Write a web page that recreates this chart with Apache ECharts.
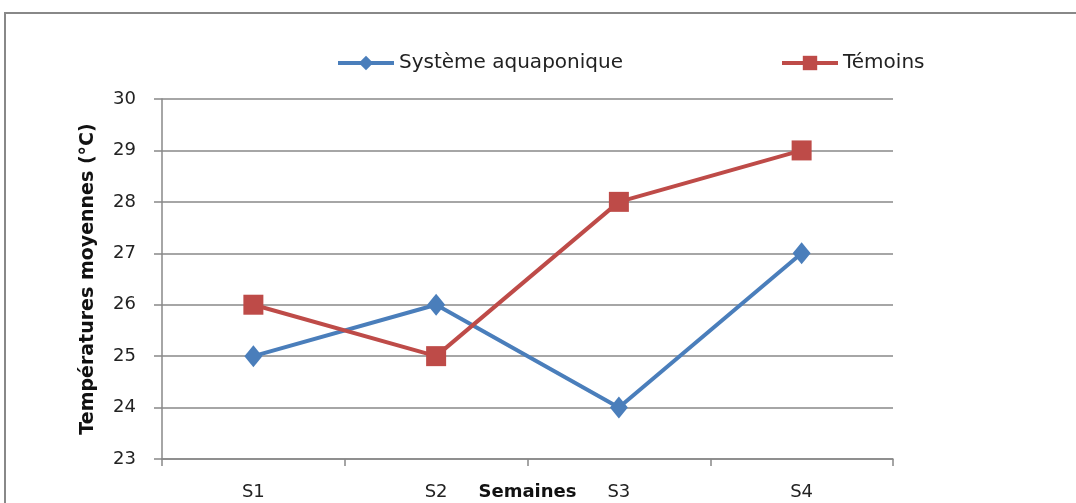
<!DOCTYPE html>
<html>
<head>
<meta charset="utf-8">
<script src="https://cdn.jsdelivr.net/npm/echarts@6/dist/echarts.min.js"></script>
<style>html,body{margin:0;padding:0;background:#fff}#c{width:1076px;height:503px}</style>
</head>
<body>
<div id="c"></div>
<script>
const categories = ['S1', 'S2', 'S3', 'S4'];
const aquaponique = [25, 26, 24, 27];
const temoins = [26, 25, 28, 29];
const seriesNames = ['Système aquaponique', 'Témoins'];
const yTicks = { min: 23, max: 30, interval: 1 };

const FONT = '"DejaVu Sans", "Noto Sans", sans-serif';
const chart = echarts.init(document.getElementById('c'), null, { renderer: 'canvas' });
const legendCommon = {
  top: 53, padding: 0, itemWidth: 56, itemHeight: 18, itemGap: 5,
  lineStyle: { width: 4 },
  textStyle: { fontFamily: FONT, fontSize: 20, color: '#222' }
};
chart.setOption({
  animation: false,
  backgroundColor: '#fff',
  graphic: [{
    type: 'rect',
    shape: { x: 5, y: 13, width: 1200, height: 600 },
    style: { fill: 'none', stroke: '#888', lineWidth: 2 }, silent: true
  }],
  legend: [
    Object.assign({ data: [seriesNames[0]], left: 336 }, legendCommon),
    Object.assign({ data: [seriesNames[1]], left: 780 }, legendCommon)
  ],
  grid: { left: 162, right: 183, top: 99, bottom: 44, outerBoundsMode: 'none', containLabel: false },
  xAxis: {
    type: 'category', data: categories, boundaryGap: true,
    name: 'Semaines', nameLocation: 'middle', nameGap: 24, nameMoveOverlap: false,
    nameTextStyle: { fontFamily: FONT, fontSize: 18, fontWeight: 'bold', color: '#111' },
    axisLine: { lineStyle: { color: '#888', width: 1.5 } },
    axisTick: { show: true, length: 7, lineStyle: { color: '#888', width: 1.5 } },
    axisLabel: { fontFamily: FONT, fontSize: 18, color: '#222', margin: 24 }
  },
  yAxis: {
    type: 'value', min: yTicks.min, max: yTicks.max, interval: yTicks.interval,
    name: 'Températures moyennes (°C)', nameLocation: 'middle', nameGap: 64, nameRotate: 90,
    nameMoveOverlap: false,
    nameTextStyle: { fontFamily: FONT, fontSize: 19, fontWeight: 'bold', color: '#111' },
    axisLine: { show: true, lineStyle: { color: '#888', width: 1.5 } },
    axisTick: { show: true, length: 8, lineStyle: { color: '#888', width: 1.5 } },
    axisLabel: { fontFamily: FONT, fontSize: 18, color: '#222', margin: 26 },
    splitLine: { lineStyle: { color: '#888', width: 1.5 } }
  },
  series: [
    { name: seriesNames[0], type: 'line', data: aquaponique,
      symbol: 'diamond', symbolSize: [18, 22],
      lineStyle: { color: '#4A7EBB', width: 4 }, itemStyle: { color: '#4A7EBB' } },
    { name: seriesNames[1], type: 'line', data: temoins,
      symbol: 'rect', symbolSize: 20,
      lineStyle: { color: '#BE4B48', width: 4 }, itemStyle: { color: '#BE4B48' } }
  ]
});
</script>
</body>
</html>
